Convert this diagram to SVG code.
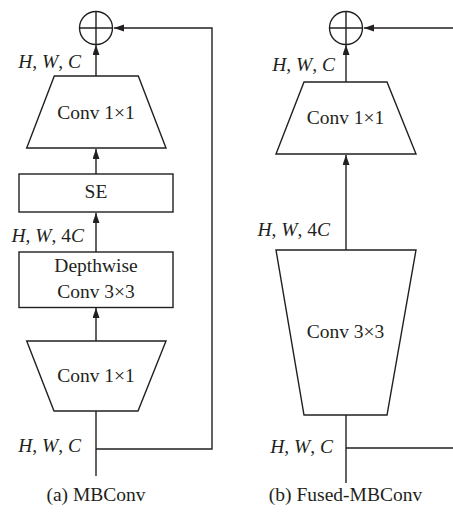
<svg xmlns="http://www.w3.org/2000/svg" width="453" height="512" viewBox="0 0 453 512">
<defs>
<style>
.s{fill:#fff;stroke:#231f20;stroke-width:1.4}
.l{fill:none;stroke:#231f20;stroke-width:1.4}
text{font-family:"Liberation Serif","Times New Roman",serif;font-size:19.5px;fill:#231f20}
.c{text-anchor:middle}
.e{text-anchor:end}
.i{font-style:italic}
</style>
<marker id="a" markerUnits="userSpaceOnUse" markerWidth="11" markerHeight="8" refX="10" refY="3.5" orient="auto">
<path d="M0,0 L10,3.5 L0,7 z" fill="#231f20"/>
</marker>
</defs>
<rect width="453" height="512" fill="#fff"/>
<g id="connectors">
<line class="l" x1="96" y1="76" x2="96" y2="45" marker-end="url(#a)"/>
<line class="l" x1="96" y1="174" x2="96" y2="149" marker-end="url(#a)"/>
<line class="l" x1="96" y1="252" x2="96" y2="213" marker-end="url(#a)"/>
<line class="l" x1="96" y1="341" x2="96" y2="308" marker-end="url(#a)"/>
<line class="l" x1="96" y1="411" x2="96" y2="476"/>
<polyline class="l" points="96,449 212,449 212,28 114,28" marker-end="url(#a)"/>
<line class="l" x1="346" y1="82" x2="346" y2="45" marker-end="url(#a)"/>
<line class="l" x1="346" y1="250" x2="346" y2="155" marker-end="url(#a)"/>
<line class="l" x1="346" y1="415" x2="346" y2="483"/>
<polyline class="l" points="346,448 462,448 462,28 364,28" marker-end="url(#a)"/>
</g>
<g id="add-a">
<circle class="s" cx="96" cy="28" r="16.5"/>
<path class="l" d="M79.5,28 H112.5 M96,11.5 V44.5"/>
</g>
<g id="conv1x1-out-a">
<polygon class="s" points="54.3,76 138.3,76 166,148 26.7,148"/>
<text class="c" x="96" y="119">Conv 1×1</text>
</g>
<g id="se-a">
<rect class="s" x="19" y="174" width="154" height="38"/>
<text class="c" x="96" y="198">SE</text>
</g>
<g id="dw-a">
<rect class="s" x="19" y="252" width="154" height="55.5"/>
<text class="c" x="96" y="272">Depthwise</text>
<text class="c" x="96" y="298">Conv 3×3</text>
</g>
<g id="conv1x1-in-a">
<polygon class="s" points="26.7,341 166,341 138,411 54,411"/>
<text class="c" x="96" y="382">Conv 1×1</text>
</g>
<g id="labels-a">
<text class="e" x="81" y="68"><tspan class="i">H</tspan>, <tspan class="i">W</tspan>, <tspan class="i">C</tspan></text>
<text class="e" x="84" y="242"><tspan class="i">H</tspan>, <tspan class="i">W</tspan>, 4<tspan class="i">C</tspan></text>
<text class="e" x="81" y="452"><tspan class="i">H</tspan>, <tspan class="i">W</tspan>, <tspan class="i">C</tspan></text>
<text class="c" x="96" y="501">(a) MBConv</text>
</g>
<g id="add-b">
<circle class="s" cx="346" cy="28" r="16.5"/>
<path class="l" d="M329.5,28 H362.5 M346,11.5 V44.5"/>
</g>
<g id="conv1x1-b">
<polygon class="s" points="304,82 387,82 416,154 276,154"/>
<text class="c" x="345.5" y="124">Conv 1×1</text>
</g>
<g id="conv3x3-b">
<polygon class="s" points="276,250 416,250 387,415 304,415"/>
<text class="c" x="345.5" y="338">Conv 3×3</text>
</g>
<g id="labels-b">
<text class="e" x="335" y="71"><tspan class="i">H</tspan>, <tspan class="i">W</tspan>, <tspan class="i">C</tspan></text>
<text class="e" x="330" y="236"><tspan class="i">H</tspan>, <tspan class="i">W</tspan>, 4<tspan class="i">C</tspan></text>
<text class="e" x="333" y="453"><tspan class="i">H</tspan>, <tspan class="i">W</tspan>, <tspan class="i">C</tspan></text>
<text class="c" x="345.5" y="501">(b) Fused-MBConv</text>
</g>
</svg>
